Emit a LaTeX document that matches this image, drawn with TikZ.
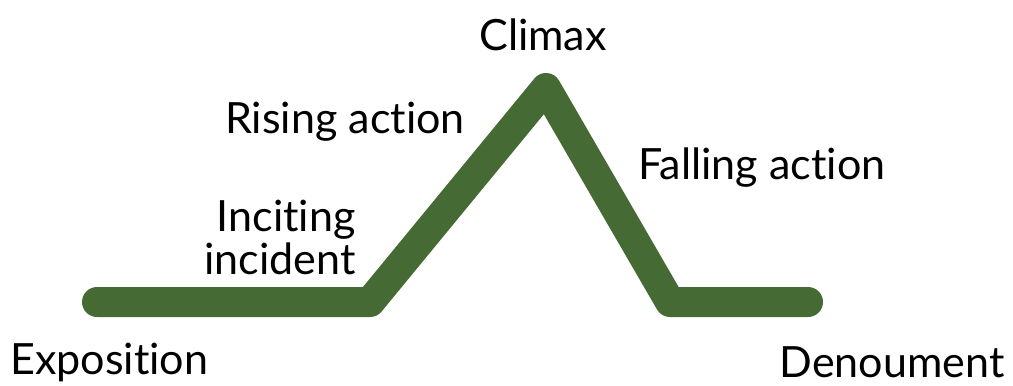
\documentclass[tikz,border=0pt]{standalone}
\usepackage{fontspec}
\setmainfont{Lato}[Ligatures={NoCommon}]
\definecolor{plotgreen}{RGB}{69,106,52}

\begin{document}
\begin{tikzpicture}[x=0.02cm, y=-0.02cm,
    every node/.style={inner sep=0pt, font=\fontsize{24.5}{24.5}\selectfont},
    arc/.style={line width=30*0.02cm, color=plotgreen, line cap=round, line join=round}]
    \useasboundingbox (0,0) rectangle (1013,385);

    \coordinate (start) at (97,302);
    \coordinate (incite) at (370,302);
    \coordinate (peak) at (546,88);
    \coordinate (fall) at (670,302);
    \coordinate (stop) at (808,302);

    \draw[arc] (start) -- (incite) -- (peak) -- (fall) -- (stop);

    \node[anchor=west] (expo) at (10,362) {Exposition};
    \node[anchor=east, align=right] (inc) at (356,237) {Inciting\\incident};
    \node (rise) at (345,122) {Rising action};
    \node (climax) at (543,35) {Climax};
    \node (falling) at (762,168) {Falling action};
    \node[anchor=east] (denou) at (1005,362) {Denoument};
\end{tikzpicture}
\end{document}
